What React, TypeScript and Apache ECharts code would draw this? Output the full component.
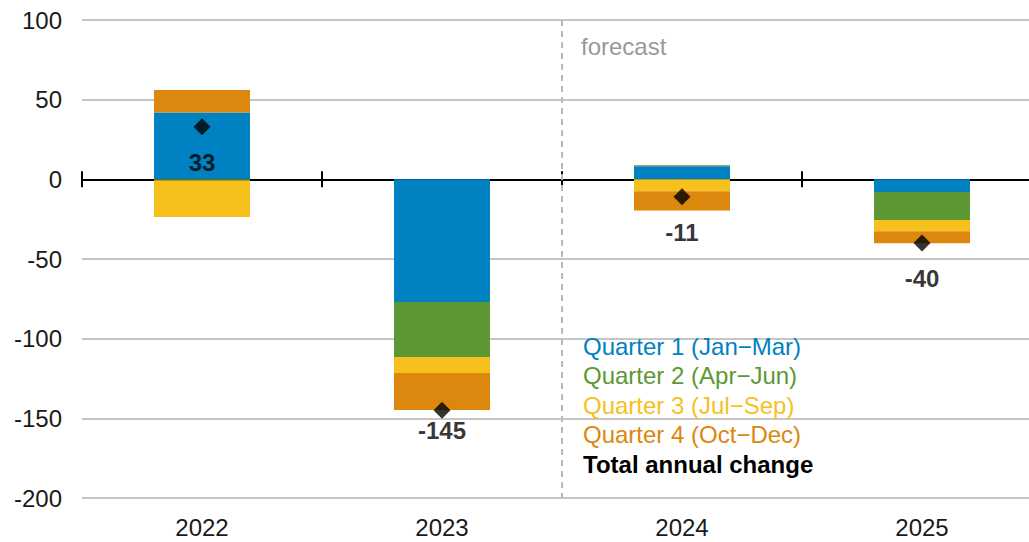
import React, { useEffect, useRef } from "react";
import * as echarts from "echarts";

const categories = ["2022", "2023", "2024", "2025"];
const q1 = [42, -77, 8.2, -8];
const q2 = [-0.6, -34.5, 0.6, -17.6];
const q3 = [-23, -10, -7.5, -7];
const q4 = [14, -23.2, -12, -7.5];
const totals = [33, -145, -11, -40];
const yTicks = { min: -200, max: 100, interval: 50 };

const seriesNames = [
  "Quarter 1 (Jan\u2212Mar)",
  "Quarter 2 (Apr\u2212Jun)",
  "Quarter 3 (Jul\u2212Sep)",
  "Quarter 4 (Oct\u2212Dec)",
];
const totalName = "Total annual change";
const colors = ["#0081C2", "#5C9834", "#F6C11D", "#DC870D"];

const FONT = "Liberation Sans, Arial, sans-serif";
const CHART_W = 1042;

export default function App() {
  const ref = useRef<HTMLDivElement>(null);
  useEffect(() => {
    if (!ref.current) return;
    const chart = echarts.init(ref.current, null, { renderer: "svg" });
    const gridLeft = 82;
    const gridRight = 0;
    const width = CHART_W - gridLeft - gridRight;
    const band = width / categories.length;
    const forecastX = gridLeft + band * 2;
    const quarterData = [q1, q2, q3, q4];
    const zeroTick = { show: true, length: 8, lineStyle: { color: "#000", width: 2 } };
    const zeroLineStyle = { color: "#000", width: 2 };
    chart.setOption({
      animation: false,
      textStyle: { fontFamily: FONT },
      grid: { left: gridLeft, right: gridRight, top: 20, bottom: 44, containLabel: false },
      legend: {
        orient: "vertical",
        left: 573,
        top: 329,
        icon: "none",
        itemWidth: 0,
        itemHeight: 24,
        itemGap: 5.5,
        selectedMode: false,
        textStyle: { fontFamily: FONT, fontSize: 24 },
        data: [
          ...seriesNames.map((n, i) => ({ name: n, textStyle: { color: colors[i] } })),
          { name: totalName, textStyle: { color: "#000", fontWeight: "bold" } },
        ],
      },
      xAxis: [
        {
          type: "category",
          data: categories,
          position: "bottom",
          axisLine: { show: false, onZero: false },
          axisTick: { show: false },
          axisLabel: { color: "#1a1a1a", fontSize: 24, margin: 17, fontFamily: FONT },
        },
        {
          type: "category",
          data: categories,
          position: "bottom",
          axisLine: { show: true, onZero: true, onZeroAxisIndex: 0, lineStyle: zeroLineStyle },
          axisTick: zeroTick,
          axisLabel: { show: false },
        },
        {
          type: "category",
          data: categories,
          position: "bottom",
          axisLine: { show: true, onZero: true, onZeroAxisIndex: 1, lineStyle: zeroLineStyle },
          axisTick: { ...zeroTick, inside: true },
          axisLabel: { show: false },
        },
      ],
      yAxis: [
        {
          type: "value",
          min: yTicks.min,
          max: yTicks.max,
          interval: yTicks.interval,
          axisLine: { show: false },
          axisTick: { show: false },
          axisLabel: { color: "#1a1a1a", fontSize: 24, margin: 20, fontFamily: FONT },
          splitLine: { lineStyle: { color: "#C6C6C6", width: 2 } },
        },
        {
          type: "value",
          min: yTicks.min,
          max: yTicks.max,
          interval: yTicks.interval,
          position: "left",
          axisLine: { show: false },
          axisTick: { show: false },
          axisLabel: { show: false },
          splitLine: { show: false },
        },
      ],
      series: [
        ...quarterData.map((d, i) => ({
          name: seriesNames[i],
          type: "bar",
          stack: "total",
          barWidth: "40%",
          data: d,
          itemStyle: { color: colors[i] },
        })),
        {
          name: totalName,
          type: "scatter",
          data: totals.map((v, i) => (i === 1 ? { value: v, label: { distance: 0 } } : v)),
          symbol: "diamond",
          symbolSize: 17,
          itemStyle: { color: "#000" },
          z: 5,
          label: {
            show: true,
            position: "bottom",
            distance: 15,
            color: "#000",
            fontSize: 24,
            fontWeight: "bold",
            fontFamily: FONT,
          },
        },
      ],
      graphic: [
        {
          type: "line",
          shape: { x1: forecastX, y1: 20, x2: forecastX, y2: 498 },
          style: { stroke: "#B8B8B8", lineWidth: 2, lineDash: [6, 5] },
          z: 1,
        },
        {
          type: "text",
          x: 581,
          y: 46,
          style: {
            text: "forecast",
            fill: "#999",
            font: `24px ${FONT}`,
            verticalAlign: "middle",
          },
        },
      ],
    });
    return () => chart.dispose();
  }, []);
  return (
    <div
      style={{
        position: "fixed",
        left: 0,
        top: 0,
        width: 1029,
        height: 542,
        overflow: "hidden",
        background: "#fff",
      }}
    >
      <div ref={ref} style={{ width: CHART_W, height: 542 }} />
    </div>
  );
}
